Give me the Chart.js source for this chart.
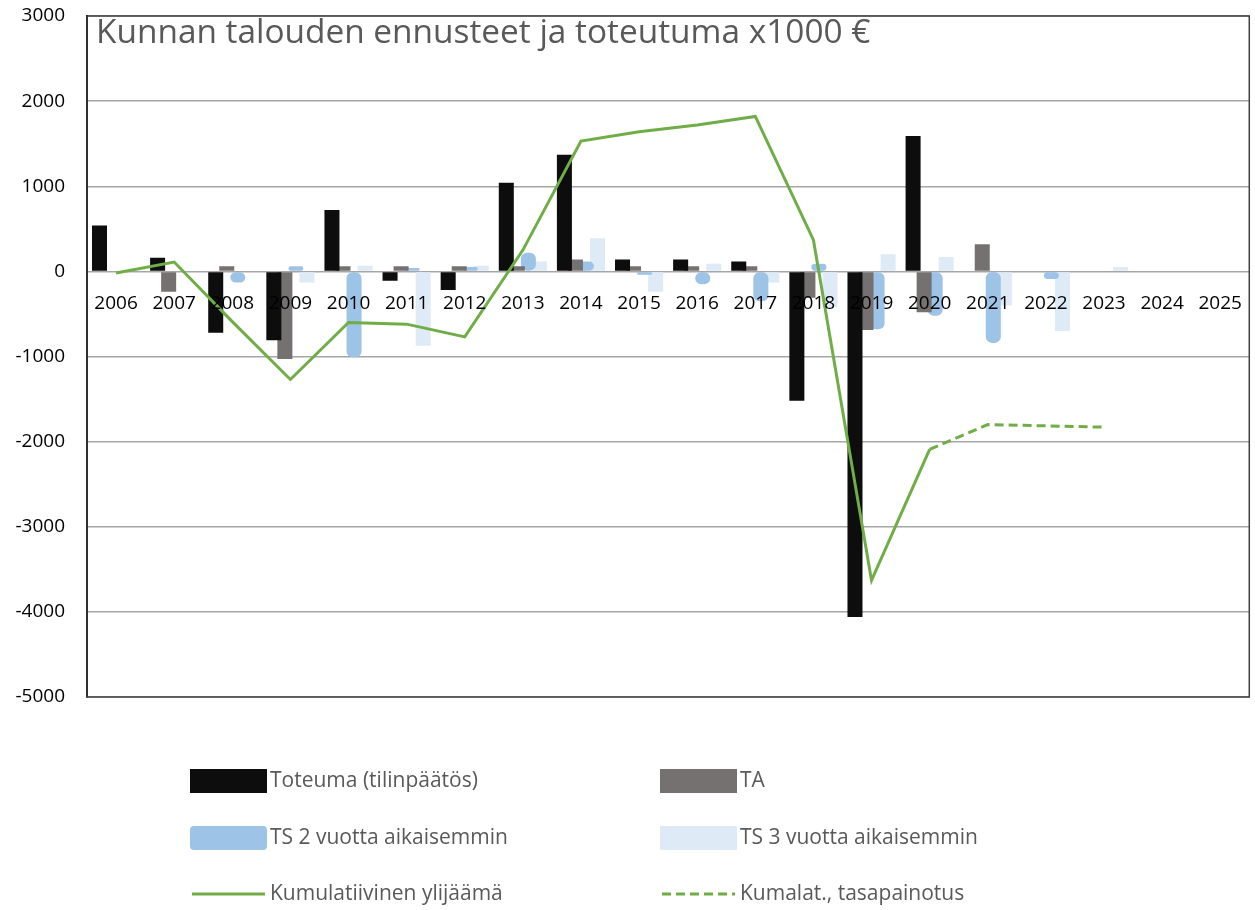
<!DOCTYPE html>
<html>
<head>
<meta charset="utf-8">
<script src="https://cdn.jsdelivr.net/npm/chart.js@4.4.0/dist/chart.umd.min.js"></script>
<style>
  html, body { margin: 0; padding: 0; background: #fff; }
  #wrap { width: 1255px; height: 910px; position: relative; }
</style>
</head>
<body>
<div id="wrap"><canvas id="talousChart"></canvas></div>
<script>
var chartTitle = "Kunnan talouden ennusteet ja toteutuma x1000 €";
var years = ["2006", "2007", "2008", "2009", "2010", "2011", "2012", "2013", "2014", "2015",
             "2016", "2017", "2018", "2019", "2020", "2021", "2022", "2023", "2024", "2025"];

// bars (x1000 €)
var toteuma = [540, 160, -720, -810, 720, -110, -220, 1040, 1370, 140, 140, 115, -1520, -4060, 1590, null, null, null, null, null];
var ta      = [null, -240, 60, -1030, 60, 60, 60, 60, 140, 60, 60, 60, -310, -690, -480, 320, null, null, null, null];
var ts2     = [null, null, -130, 60, -1010, 40, 50, 220, 115, -40, -150, -350, 90, -680, -520, -840, -90, null, null, null];
var ts3     = [null, null, null, -130, 65, -875, 65, 115, 390, -240, 90, -130, -420, 200, 170, -400, -700, 50, null, null];

// lines
var kumulatiivinen = [-20, 110, -590, -1270, -600, -620, -770, 250, 1530, 1640, 1720, 1820, 370, -3630, -2090, null, null, null, null, null];
var tasapainotus   = [null, null, null, null, null, null, null, null, null, null, null, null, null, null, -2090, -1800, -1815, -1830, null, null];

var yTicks = [-5000, -4000, -3000, -2000, -1000, 0, 1000, 2000, 3000];

var green = "#70ad47";
var textGrey = "#595959";
var fontName = "'Open Sans'";

// title inside the plot + frame
var framePlugin = {
  id: "frame",
  afterDraw: function(chart) {
    var ctx = chart.ctx;
    var a = chart.chartArea;
    ctx.save();
    ctx.strokeStyle = "#404040";
    ctx.lineWidth = 1.5;
    ctx.strokeRect(a.left, a.top, a.right - a.left, a.bottom - a.top);
    ctx.fillStyle = textGrey;
    ctx.font = "33.4px " + fontName;
    ctx.textBaseline = "top";
    ctx.fillText(chartTitle, a.left + 9, a.top + 1);
    ctx.restore();
  }
};

// two column legend under the plot
var legendPlugin = {
  id: "twoColLegend",
  afterDraw: function(chart) {
    var ctx = chart.ctx;
    var colX = [190, 660];
    var rowY = [781, 838, 894];
    ctx.save();
    ctx.font = "21px " + fontName;
    ctx.textBaseline = "middle";
    chart.data.datasets.forEach(function(ds, i) {
      var x = colX[i % 2];
      var y = rowY[Math.floor(i / 2)];
      var w = 77;
      if (ds.type === "line") {
        ctx.strokeStyle = ds.borderColor;
        ctx.lineWidth = 3;
        ctx.setLineDash(ds.borderDash || []);
        ctx.beginPath();
        ctx.moveTo(x + 2, y);
        ctx.lineTo(x + w - 2, y);
        ctx.stroke();
        ctx.setLineDash([]);
      } else {
        ctx.fillStyle = ds.backgroundColor;
        ctx.beginPath();
        if (ds.borderRadius) {
          ctx.roundRect(x, y - 12, w, 24, 4);
        } else {
          ctx.rect(x, y - 12, w, 24);
        }
        ctx.fill();
      }
      ctx.fillStyle = textGrey;
      ctx.fillText(ds.label, x + w + 3, y);
    });
    ctx.restore();
  }
};

var barOpts = { categoryPercentage: 0.76, barPercentage: 1.36, order: 1 };

new Chart("talousChart", {
  type: "bar",
  data: {
    labels: years,
    datasets: [
      Object.assign({ label: "Toteuma (tilinpäätös)", data: toteuma, backgroundColor: "#0d0d0d" }, barOpts),
      Object.assign({ label: "TA", data: ta, backgroundColor: "#767171" }, barOpts),
      Object.assign({ label: "TS 2 vuotta aikaisemmin", data: ts2, backgroundColor: "#9dc3e6", borderRadius: 6, borderSkipped: false }, barOpts),
      Object.assign({ label: "TS 3 vuotta aikaisemmin", data: ts3, backgroundColor: "#deebf7" }, barOpts),
      {
        type: "line", label: "Kumulatiivinen ylijäämä", data: kumulatiivinen,
        borderColor: green, borderWidth: 3, pointRadius: 0, tension: 0, order: 0
      },
      {
        type: "line", label: "Kumalat., tasapainotus", data: tasapainotus,
        borderColor: green, borderWidth: 3, borderDash: [9, 5], pointRadius: 0, tension: 0, order: 0
      }
    ]
  },
  options: {
    responsive: true,
    maintainAspectRatio: false,
    animation: false,
    layout: { padding: { top: 16, right: 2, bottom: 213, left: 0 } },
    plugins: {
      legend: { display: false },
      title: { display: false },
      tooltip: { enabled: false }
    },
    scales: {
      x: {
        position: { y: 0 },
        grid: { display: false },
        border: { display: false },
        ticks: {
          z: 1,
          color: "#000",
          font: { family: "Open Sans", size: 19 },
          padding: 13,
          maxRotation: 0,
          autoSkip: false
        }
      },
      y: {
        min: -5000,
        max: 3000,
        afterFit: function(scale) { scale.width = 87; },
        afterBuildTicks: function(scale) {
          scale.ticks = yTicks.map(function(v) { return { value: v }; });
        },
        grid: { color: "#a6a6a6", lineWidth: 1.5, drawTicks: true, tickLength: 18, tickColor: "rgba(0,0,0,0)" },
        border: { display: true, color: "#000", width: 2 },
        ticks: {
          color: "#000",
          font: { family: "Open Sans", size: 19 },
          padding: 4,
          callback: function(v) { return String(v); }
        }
      }
    }
  },
  plugins: [framePlugin, legendPlugin]
});
</script>
</body>
</html>
